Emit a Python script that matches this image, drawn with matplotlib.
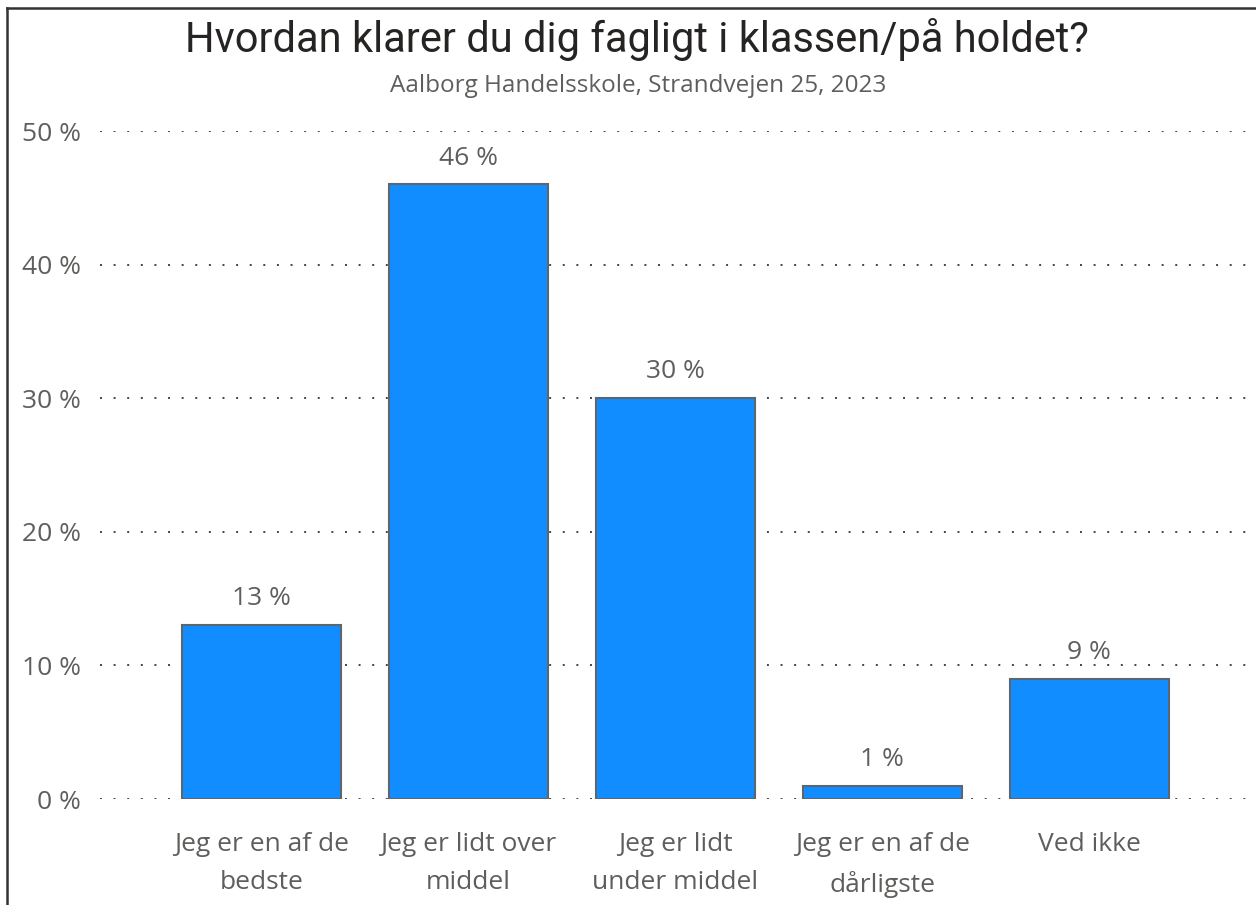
import matplotlib
matplotlib.use("Agg")
import matplotlib.pyplot as plt
from matplotlib.lines import Line2D

# %% Data
categories = ["Jeg er en af de\nbedste", "Jeg er lidt over\nmiddel", "Jeg er lidt\nunder middel",
              "Jeg er en af de\ndårligste", "Ved ikke"]
values = [13, 46, 30, 1, 9]
yticks = [0, 10, 20, 30, 40, 50]

title = "Hvordan klarer du dig fagligt i klassen/på holdet?"
subtitle = "Aalborg Handelsskole, Strandvejen 25, 2023"

blue = "#118DFF"
grey_text = "#605E5C"

# %% Plot
fig = plt.figure(figsize=(12.56, 9.05), dpi=100)
ax = fig.add_axes([0.0796, 0.1171, 0.9154, 0.7381])

x = list(range(len(categories)))
ax.bar(x, values, width=0.77, color=blue, edgecolor="#5B6670", linewidth=1.5, zorder=3)

for xi, v in zip(x, values):
    ax.annotate(f"{v} %", (xi, v), xytext=(0, 10), textcoords="offset points",
                ha="center", va="bottom", fontsize=19, color=grey_text, family="Open Sans")

ax.set_ylim(0, 50)
ax.set_xlim(-0.78, 4.775)
ax.set_yticks(yticks)
ax.set_yticklabels([f"{t} %" for t in yticks], family="Open Sans", fontsize=19, color=grey_text)
ax.set_xticks(x)
ax.set_xticklabels(categories, family="Open Sans", fontsize=19, color=grey_text, linespacing=1.65)
ax.tick_params(axis="both", length=0)
ax.tick_params(axis="y", pad=14)
ax.tick_params(axis="x", pad=24)

for t in yticks:
    ax.axhline(t, color="#444444", linestyle=(0, (1, 6)), linewidth=1.4, zorder=1)

for s in ax.spines.values():
    s.set_visible(False)

fig.text(0.507, 0.956, title, ha="center", va="center", fontsize=30, color="#252423", family="Roboto")
fig.text(0.508, 0.905, subtitle, ha="center", va="center", fontsize=17.5, color=grey_text, family="Open Sans")

# border of the visual (left and top only visible)
fig.add_artist(Line2D([7 / 1256, 7 / 1256], [0, 1 - 8 / 905], transform=fig.transFigure, color="#333333", linewidth=1.8))
fig.add_artist(Line2D([7 / 1256, 1], [1 - 8 / 905, 1 - 8 / 905], transform=fig.transFigure, color="#333333", linewidth=1.8))

fig.savefig("out.png", dpi=100)
